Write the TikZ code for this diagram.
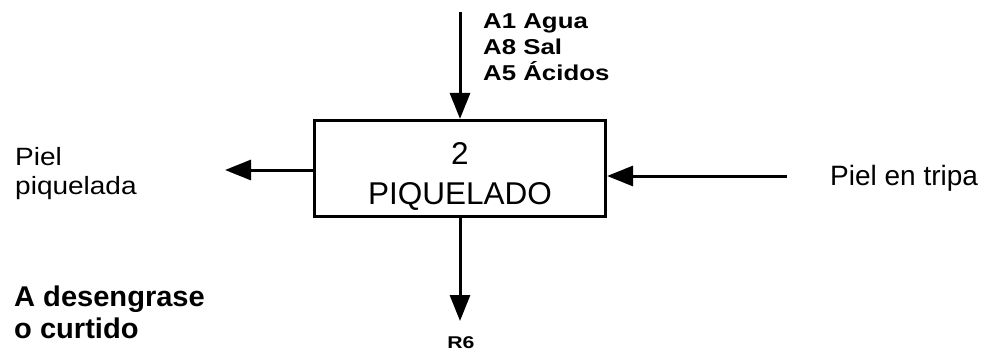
\documentclass[tikz,border=0pt]{standalone}
\usepackage{fontspec}
\setmainfont{Liberation Sans}
\usetikzlibrary{arrows.meta}
\tikzset{
  flow/.style={line width=3pt, -{Triangle[length=26pt,width=20pt]}},
  procbox/.style={draw, line width=3.2pt, minimum width=291pt, minimum height=96pt, inner sep=0pt},
  lbl/.style={inner sep=0pt, anchor=north west, align=left},
}
\begin{document}
\begin{tikzpicture}[x=1pt,y=-1pt]
\useasboundingbox (0,0) rectangle (997,356);
% process box
\node[procbox] (box) at (460,168.5) {};
\node[inner sep=0pt, align=center, font=\fontsize{31.5}{40}\selectfont] (boxlbl) at (460,176) {2\\PIQUELADO};
% inputs / outputs
\coordinate (tin) at (460,12);
\coordinate (lout) at (225,170);
\coordinate (rin) at (787,176);
\coordinate (bout) at (460,321);
\draw[flow] (tin) -- (box.north);
\draw[flow] (box.west |- lout) -- (lout);
\draw[flow] (rin) -- (box.east |- rin);
\draw[flow] (box.south) -- (bout);
% labels
\node[lbl, xscale=1.2, font=\bfseries\fontsize{21.5}{26}\selectfont] (inputs) at (483,14) {A1 Agua\\A8 Sal\\A5 Ácidos};
\node[lbl, xscale=1.12, font=\fontsize{25}{29}\selectfont] (pielpiq) at (15,147) {Piel\\piquelada};
\node[lbl, font=\fontsize{28}{28}\selectfont] (pieltripa) at (830,165) {Piel en tripa};
\node[lbl, xscale=1.02, font=\bfseries\fontsize{28.5}{31.5}\selectfont] (desen) at (14,286) {A desengrase\\o curtido};
\node[lbl, xscale=1.25, font=\bfseries\fontsize{17}{17}\selectfont] (r6) at (447,336) {R6};
\end{tikzpicture}
\end{document}
